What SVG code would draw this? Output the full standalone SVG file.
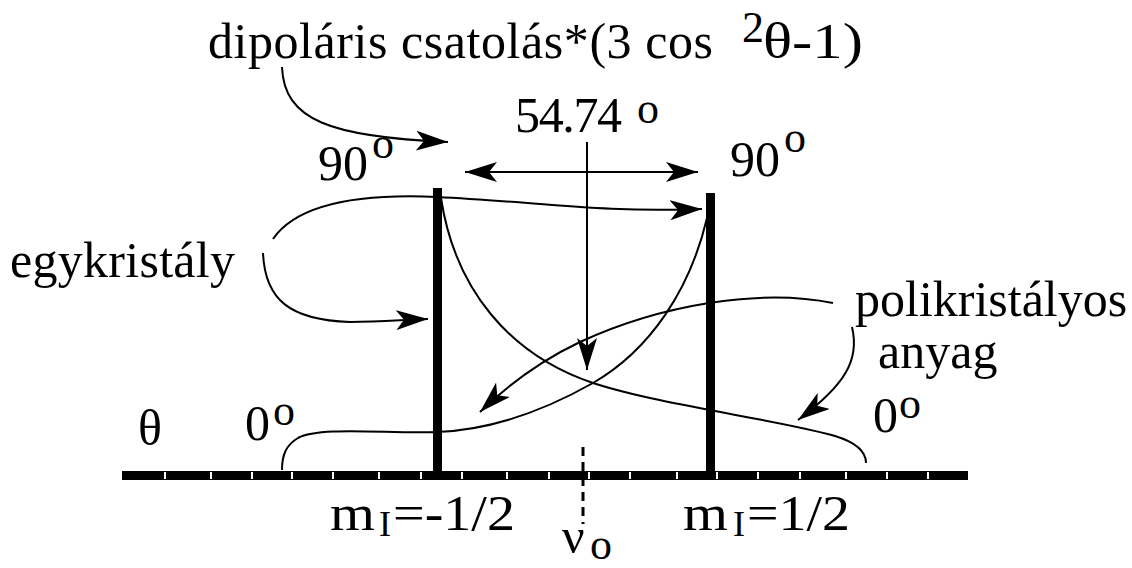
<svg xmlns="http://www.w3.org/2000/svg" width="1132" height="568" viewBox="0 0 1132 568">
<style>
text{fill:#000}
.t{font-size:50px}
.sup{font-size:44px}
.c{fill:none;stroke:#000;stroke-width:2}
.tick{stroke:#fff;stroke-width:2}
</style>
<defs>
<marker id="ah" viewBox="0 0 32 20" refX="32" refY="10" markerWidth="32" markerHeight="20" markerUnits="userSpaceOnUse" orient="auto-start-reverse">
<path d="M32,10 L0,0 L8,10 L0,20 Z" fill="#000"/>
</marker>
</defs>
<rect width="1132" height="568" fill="#fff"/>
<g font-family="'Liberation Serif', 'DejaVu Serif', serif">
<g id="axis">
<rect x="122" y="471" width="846" height="9" fill="#000"/>
<g class="tick">
<line x1="165" y1="472" x2="165" y2="479"/><line x1="211" y1="472" x2="211" y2="479"/><line x1="252" y1="472" x2="252" y2="479"/><line x1="292" y1="472" x2="292" y2="479"/><line x1="333" y1="472" x2="333" y2="479"/><line x1="379" y1="472" x2="379" y2="479"/><line x1="421" y1="472" x2="421" y2="479"/><line x1="462" y1="472" x2="462" y2="479"/><line x1="507" y1="472" x2="507" y2="479"/><line x1="549" y1="472" x2="549" y2="479"/><line x1="589" y1="472" x2="589" y2="479"/><line x1="630" y1="472" x2="630" y2="479"/><line x1="677" y1="472" x2="677" y2="479"/><line x1="717" y1="472" x2="717" y2="479"/><line x1="758" y1="472" x2="758" y2="479"/><line x1="800" y1="472" x2="800" y2="479"/><line x1="846" y1="472" x2="846" y2="479"/><line x1="887" y1="472" x2="887" y2="479"/><line x1="928" y1="472" x2="928" y2="479"/>
</g>
<line x1="583" y1="447" x2="583" y2="524" stroke="#000" stroke-width="3" stroke-dasharray="9,6"/>
<text class="t" x="138" y="445">θ</text>
</g>
<g id="bar-left">
<rect x="433" y="188" width="9" height="284" fill="#000"/>
<text class="t" x="330" y="530" textLength="45" lengthAdjust="spacingAndGlyphs">m</text><text x="379" y="536" font-size="36">I</text><text class="t" x="393" y="530" textLength="122" lengthAdjust="spacingAndGlyphs">=-1/2</text>
</g>
<g id="bar-right">
<rect x="706" y="193" width="9" height="279" fill="#000"/>
<text class="t" x="683" y="530" textLength="45" lengthAdjust="spacingAndGlyphs">m</text><text x="733" y="536" font-size="36">I</text><text class="t" x="747" y="530" textLength="103" lengthAdjust="spacingAndGlyphs">=1/2</text>
</g>
<g id="nu0">
<text class="t" x="562" y="553">ν</text><text class="sup" x="590" y="559">o</text>
</g>
<g id="title">
<text class="t" x="208" y="58" textLength="505">dipoláris csatolás*(3 cos</text>
<text class="sup" x="742" y="42">2</text>
<text class="t" x="763" y="58" textLength="100" lengthAdjust="spacingAndGlyphs">θ-1)</text>
</g>
<g id="angle-label">
<text class="t" x="515" y="132" textLength="107">54.74</text><text class="sup" x="637" y="123">o</text>
</g>
<g id="labels-90">
<text class="t" x="318" y="180">90</text><text class="sup" x="372" y="158">o</text>
<text class="t" x="730" y="176">90</text><text class="sup" x="784" y="152">o</text>
</g>
<g id="labels-0">
<text class="t" x="245" y="440">0</text><text class="sup" x="273" y="425">o</text>
<text class="t" x="873" y="432">0</text><text class="sup" x="899" y="418">o</text>
</g>
<g id="egykristaly">
<text class="t" x="10" y="277" textLength="225">egykristály</text>
</g>
<g id="polikristalyos">
<text class="t" x="855" y="316">polikristályos</text>
<text class="t" x="878" y="368">anyag</text>
</g>
</g>
<g id="connectors">
<path class="c" d="M282,67 C284,120 330,137 448,142" marker-end="url(#ah)"/>
<path class="c" d="M465,172 L698,172" marker-start="url(#ah)" marker-end="url(#ah)"/>
<path class="c" d="M587,142 L587,370" marker-end="url(#ah)"/>
<path class="c" d="M273,239 C300,200 370,194 437,197 C540,202 600,213 702,209" marker-end="url(#ah)"/>
<path class="c" d="M263,253 C265,300 290,320 350,322 C380,322 400,320 428,319" marker-end="url(#ah)"/>
<path class="c" d="M852,327 C860,360 845,385 798,420" marker-end="url(#ah)"/>
<path class="c" d="M833,303 C760,288 660,305 580,342 C540,361 510,383 480,412" marker-end="url(#ah)"/>
<path class="c" d="M441,198 C455,290 510,355 593,383 C660,405 780,420 835,436 C858,443 866,452 866,463"/>
<path class="c" d="M707,218 C690,290 650,350 593,383 C540,413 490,430 437,432 C390,434 320,426 298,438 C286,445 282,455 282,470"/>
</g>
</svg>
